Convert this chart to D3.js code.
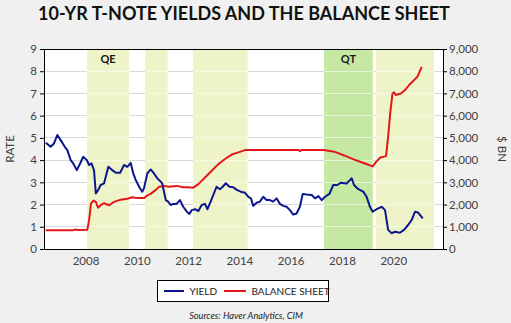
<!DOCTYPE html>
<html>
<head>
<meta charset="utf-8">
<script src="https://cdn.jsdelivr.net/npm/d3@7/dist/d3.min.js"></script>
<style>
  html, body { margin: 0; padding: 0; background: #f0f0f0; }
  svg { display: block; }
</style>
</head>
<body>
<svg id="chart" width="511" height="323"></svg>
<script>
// ---- data (decimal years) ----
const yieldDates = [2006.45,2006.64,2006.77,2006.9,2007.03,2007.19,2007.29,2007.42,2007.52,2007.66,2007.79,2007.91,2008.05,2008.14,2008.23,2008.33,2008.4,2008.49,2008.59,2008.72,2008.89,2009.04,2009.18,2009.35,2009.5,2009.63,2009.76,2009.86,2009.96,2010.09,2010.21,2010.28,2010.41,2010.54,2010.67,2010.8,2010.93,2010.99,2011.13,2011.22,2011.32,2011.42,2011.55,2011.68,2011.81,2011.95,2012.05,2012.14,2012.27,2012.4,2012.53,2012.66,2012.75,2012.88,2012.98,2013.11,2013.24,2013.35,2013.47,2013.61,2013.76,2013.9,2014.05,2014.22,2014.35,2014.45,2014.54,2014.67,2014.8,2014.93,2015.06,2015.19,2015.32,2015.45,2015.58,2015.71,2015.84,2015.97,2016.1,2016.23,2016.36,2016.47,2016.62,2016.82,2016.95,2017.08,2017.21,2017.34,2017.51,2017.66,2017.82,2017.95,2018.18,2018.31,2018.38,2018.47,2018.64,2018.83,2018.96,2019.09,2019.2,2019.35,2019.55,2019.68,2019.8,2019.94,2020.07,2020.26,2020.42,2020.58,2020.72,2020.85,2020.98,2021.15];
const yieldValues = [4.78,4.6,4.75,5.13,4.9,4.6,4.45,4.0,3.85,3.55,3.85,4.15,4.0,3.78,3.85,3.55,2.5,2.65,2.88,2.95,3.7,3.55,3.43,3.43,3.78,3.7,3.88,3.4,3.1,2.8,2.58,2.73,3.4,3.58,3.4,3.18,3.03,2.95,2.2,2.13,1.98,2.03,2.03,2.2,1.9,1.68,1.58,1.75,1.79,1.71,1.98,2.03,1.79,2.13,2.43,2.8,2.69,2.8,2.96,2.8,2.78,2.66,2.58,2.53,2.35,2.28,1.94,2.08,2.13,2.35,2.2,2.2,2.13,2.28,2.03,1.94,1.9,1.75,1.55,1.6,1.9,2.48,2.45,2.43,2.28,2.38,2.2,2.35,2.48,2.88,2.88,2.98,2.95,3.1,3.18,2.88,2.69,2.58,2.35,1.9,1.68,1.79,1.9,1.75,0.86,0.71,0.78,0.73,0.86,1.08,1.31,1.68,1.63,1.38];

const bsDates = [2006.45,2007.5,2007.6,2007.7,2008.07,2008.14,2008.21,2008.31,2008.4,2008.49,2008.59,2008.72,2008.92,2009.11,2009.37,2009.63,2009.82,2010.02,2010.28,2010.41,2010.54,2010.74,2010.87,2011.06,2011.26,2011.55,2011.81,2012.0,2012.2,2012.4,2012.66,2012.92,2013.18,2013.44,2013.7,2013.96,2014.22,2014.6,2015.5,2016.3,2016.36,2016.45,2017.3,2017.7,2018.09,2018.48,2018.87,2019.2,2019.33,2019.5,2019.72,2019.8,2019.88,2019.97,2020.03,2020.1,2020.3,2020.49,2020.62,2020.81,2020.94,2021.11];
const bsValues = [0.84,0.84,0.88,0.85,0.87,1.3,2.04,2.18,2.12,1.86,1.97,2.06,1.97,2.12,2.22,2.26,2.33,2.29,2.29,2.41,2.48,2.66,2.8,2.84,2.8,2.84,2.78,2.78,2.76,2.92,3.22,3.52,3.82,4.05,4.25,4.35,4.45,4.46,4.46,4.46,4.41,4.46,4.45,4.38,4.21,4.02,3.86,3.72,3.92,4.12,4.18,5.05,6.1,7.0,7.05,6.93,7.0,7.19,7.38,7.6,7.75,8.2];

const bandStarts = [2008.06,2010.32,2012.19,2017.30,2019.33];
const bandEnds   = [2009.70,2011.20,2014.32,2019.20,2021.59];
const bandKinds  = ["QE","QE","QE","QT","QE"];
const bandLabels = ["QE","","","QT",""];

const xTicks = [2008,2010,2012,2014,2016,2018,2020];
const leftTicks = [0,1,2,3,4,5,6,7,8,9];
const rightTicks = [0,1000,2000,3000,4000,5000,6000,7000,8000,9000];

const titleText = "10-YR T-NOTE YIELDS AND THE BALANCE SHEET";
const sourceText = "Sources:  Haver Analytics, CIM";
const seriesNames = ["YIELD","BALANCE SHEET"];

// ---- layout ----
const svg = d3.select("#chart");
const L = 44, R = 443, T = 49, B = 249;
const FONT = "Lato, 'Open Sans', sans-serif";
const BLUE = "#0c168c", RED = "#e3161b";

const x = d3.scaleLinear().domain([2006.38, 2021.94]).range([L, R]);
const yL = d3.scaleLinear().domain([0, 9]).range([B, T]);
const yR = d3.scaleLinear().domain([0, 9000]).range([B, T]);

// plot background
svg.append("rect").attr("x", L).attr("y", T).attr("width", R - L).attr("height", B - T).attr("fill", "#ffffff");

// gridlines
svg.append("g").selectAll("line").data(leftTicks.filter(d => d > 0 && d < 9)).join("line")
  .attr("x1", L).attr("x2", R).attr("y1", d => yL(d)).attr("y2", d => yL(d))
  .attr("stroke", "#d9d9d9").attr("stroke-width", 1).attr("shape-rendering", "crispEdges");

// bands
const bands = bandStarts.map((s, i) => ({ s, e: bandEnds[i], k: bandKinds[i], lab: bandLabels[i] }));
const bg = svg.append("g");
bg.selectAll("rect").data(bands).join("rect")
  .attr("x", d => x(d.s)).attr("width", d => x(d.e) - x(d.s))
  .attr("y", T).attr("height", B - T)
  .attr("fill", d => d.k === "QT" ? "#c5e8a2" : "#eff4c8");
// lighter gridlines over bands
bands.forEach(b => {
  bg.append("g").selectAll("line").data(leftTicks.filter(d => d > 0 && d < 9)).join("line")
    .attr("x1", x(b.s)).attr("x2", x(b.e)).attr("y1", d => yL(d)).attr("y2", d => yL(d))
    .attr("stroke", "#ffffff").attr("stroke-opacity", 0.55).attr("stroke-width", 1).attr("shape-rendering", "crispEdges");
});
bg.selectAll("text").data(bands.filter(d => d.lab)).join("text")
  .attr("x", d => (x(d.s) + x(d.e)) / 2).attr("y", 63)
  .attr("text-anchor", "middle").attr("font-family", FONT).attr("font-weight", "bold")
  .attr("font-size", 11).attr("fill", "#1a1a1a").text(d => d.lab);

// lines
const yieldData = yieldDates.map((d, i) => [d, yieldValues[i]]);
const bsData = bsDates.map((d, i) => [d, bsValues[i] * 1000]);
svg.append("path").datum(bsData)
  .attr("d", d3.line().x(d => x(d[0])).y(d => yR(d[1])))
  .attr("fill", "none").attr("stroke", RED).attr("stroke-width", 2).attr("stroke-linejoin", "round");
svg.append("path").datum(yieldData)
  .attr("d", d3.line().x(d => x(d[0])).y(d => yL(d[1])))
  .attr("fill", "none").attr("stroke", BLUE).attr("stroke-width", 2).attr("stroke-linejoin", "round");

// border
svg.append("rect").attr("x", L).attr("y", T).attr("width", R - L).attr("height", B - T)
  .attr("fill", "none").attr("stroke", "#000").attr("stroke-width", 1).attr("shape-rendering", "crispEdges");

// axes
const axL = svg.append("g").attr("transform", `translate(${L},0)`)
  .call(d3.axisLeft(yL).tickValues(leftTicks).tickSize(4).tickSizeOuter(0).tickPadding(3).tickFormat(d3.format("d")));
const axR = svg.append("g").attr("transform", `translate(${R},0)`)
  .call(d3.axisRight(yR).tickValues(rightTicks).tickSize(4).tickSizeOuter(0).tickPadding(2).tickFormat(d3.format(",")));
const axB = svg.append("g").attr("transform", `translate(0,${B})`)
  .call(d3.axisBottom(x).tickValues(xTicks).tickSize(0).tickSizeOuter(0).tickPadding(8).tickFormat(d3.format("d")));
[axL, axR, axB].forEach(a => {
  a.selectAll("text").attr("font-family", FONT).attr("font-size", 11.5).attr("fill", "#404040");
  a.select(".domain").attr("stroke", "#000");
  a.selectAll(".tick line").attr("stroke", "#000");
});
axB.select(".domain").remove();

// axis titles
svg.append("text").attr("transform", `translate(14,${(T + B) / 2}) rotate(-90)`)
  .attr("text-anchor", "middle").attr("font-family", FONT).attr("font-size", 11.5).attr("fill", "#404040").text("RATE");
svg.append("text").attr("transform", `translate(498,${(T + B) / 2}) rotate(90)`)
  .attr("text-anchor", "middle").attr("font-family", FONT).attr("font-size", 11.5).attr("fill", "#404040").text("$ BN");

// title
svg.append("text").attr("x", 244).attr("y", 20).attr("text-anchor", "middle")
  .attr("font-family", FONT).attr("font-weight", "bold").attr("font-size", 18).attr("fill", "#111").text(titleText);

// legend
const lg = svg.append("g");
lg.append("rect").attr("x", 157.5).attr("y", 280.5).attr("width", 171).attr("height", 21)
  .attr("fill", "#fff").attr("stroke", "#000").attr("stroke-width", 1);
const legItems = [
  { name: seriesNames[0], color: BLUE, x0: 164, x1: 184, tx: 189.5 },
  { name: seriesNames[1], color: RED, x0: 224, x1: 246, tx: 251.5 }
];
legItems.forEach(it => {
  lg.append("line").attr("x1", it.x0).attr("x2", it.x1).attr("y1", 291).attr("y2", 291)
    .attr("stroke", it.color).attr("stroke-width", 2);
  lg.append("text").attr("x", it.tx).attr("y", 294.5).attr("font-family", FONT)
    .attr("font-size", 10).attr("fill", "#1a1a1a").text(it.name);
});

// source
svg.append("text").attr("x", 246).attr("y", 319).attr("text-anchor", "middle")
  .attr("font-family", FONT).attr("font-style", "italic").attr("font-size", 9.2).attr("fill", "#222").text(sourceText);
</script>
</body>
</html>
